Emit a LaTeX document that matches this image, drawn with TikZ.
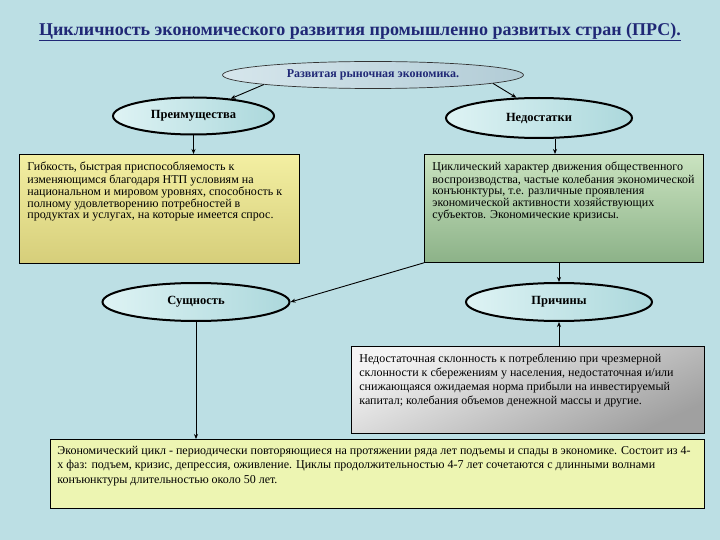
\documentclass[tikz,border=0pt]{standalone}
\usepackage{fontspec}
\setmainfont{Liberation Serif}
\usepackage{xcolor}
\usepackage{tikz}
\usetikzlibrary{arrows.meta,positioning,shapes.geometric,calc}

\definecolor{bgblue}{RGB}{188,223,228}
\definecolor{titleblue}{RGB}{32,40,118}
\definecolor{ovallight}{RGB}{222,243,244}
\definecolor{ovaldark}{RGB}{172,216,220}
\definecolor{toplight}{RGB}{214,230,236}
\definecolor{topdark}{RGB}{178,204,214}
\definecolor{yellowtop}{RGB}{243,239,162}
\definecolor{yellowbot}{RGB}{214,206,122}
\definecolor{greentop}{RGB}{202,227,192}
\definecolor{greenbot}{RGB}{140,178,136}
\definecolor{graytop}{RGB}{244,244,244}
\definecolor{graybot}{RGB}{160,160,160}
\definecolor{palefill}{RGB}{237,245,178}

\newcommand{\boxtext}[3]{\parbox[t][#2][t]{#1}{\begin{tabular}[t]{@{}l@{}}#3\end{tabular}}}

\begin{document}
\begin{tikzpicture}[x=1pt, y=-1pt,
  oval/.style={ellipse, draw=black, line width=2pt, left color=ovallight, right color=ovaldark,
    inner sep=0pt, font=\bfseries\fontsize{12.5}{14}\selectfont},
  box/.style={rectangle, draw=black, line width=0.8pt, anchor=north west,
    inner xsep=8pt, inner ysep=8pt, font=\fontsize{12}{11.7}\selectfont},
  arr/.style={line width=0.9pt, -{Stealth[length=5pt, width=4pt]}}]

  % Background
  \fill[bgblue] (0,0) rectangle (720,540);
  \useasboundingbox (0,0) rectangle (720,540);

  % Title
  \node[text=titleblue, font=\bfseries\fontsize{18}{20}\selectfont] (title) at (360,32)
    {\underline{Цикличность экономического развития промышленно развитых стран (ПРС).}};

  % Ovals
  \node[ellipse, draw=black!80, line width=0.7pt, left color=toplight, right color=topdark,
    minimum width=301pt, minimum height=27pt, inner sep=0pt, text=titleblue,
    font=\bfseries\fontsize{12}{13}\selectfont] (market) at (373,75) {Развитая рыночная экономика.};
  \node[oval, minimum width=161pt, minimum height=37pt] (adv) at (193.5,116) {Преимущества};
  \node[oval, minimum width=186pt, minimum height=40pt] (dis) at (539,118) {Недостатки};
  \node[oval, minimum width=187pt, minimum height=38pt] (ess) at (196,302) {Сущность};
  \node[oval, minimum width=186pt, minimum height=38pt] (cau) at (559,302) {Причины};

  % Text boxes
  \node[box, top color=yellowtop, bottom color=yellowbot] (advtext) at (19,154)
    {\boxtext{264pt}{93pt}{Гибкость, быстрая приспособляемость к\\
    изменяющимся благодаря НТП условиям на\\
    национальном и мировом уровнях, способность к\\
    полному удовлетворению потребностей в\\
    продуктах и услугах, на которые имеется спрос.}};
  \node[box, top color=greentop, bottom color=greenbot] (distext) at (424,154)
    {\boxtext{263pt}{92pt}{Циклический характер движения общественного\\
    воспроизводства, частые колебания экономической\\
    конъюнктуры, т.е. различные проявления\\
    экономической активности хозяйствующих\\
    субъектов. Экономические кризисы.}};
  \node[box, top color=graytop, bottom color=graybot, shading angle=25, inner ysep=6.5pt,
    font=\fontsize{12}{14}\selectfont] (cautext) at (351,346)
    {\boxtext{337pt}{74pt}{Недостаточная склонность к потреблению при чрезмерной\\
    склонности к сбережениям у населения, недостаточная и/или\\
    снижающаяся ожидаемая норма прибыли на инвестируемый\\
    капитал; колебания объемов денежной массы и другие.}};
  \node[box, fill=palefill, inner xsep=7pt, inner ysep=5pt,
    font=\fontsize{12}{14.3}\selectfont] (esstext) at (50,439)
    {\boxtext{640pt}{59pt}{Экономический цикл - периодически повторяющиеся на протяжении ряда лет подъемы и спады в экономике. Состоит из 4-\\
    х фаз: подъем, кризис, депрессия, оживление. Циклы продолжительностью 4-7 лет сочетаются с длинными волнами\\
    конъюнктуры длительностью около 50 лет.}};

  % Connectors
  \draw[arr] (market.185) -- (adv.25);
  \draw[arr] (market.-4) -- (dis.138);
  \draw[arr] (adv.south) -- (adv.south |- advtext.north);
  \draw[arr] ([xshift=16pt]dis.south) -- ([xshift=16pt]dis.south |- distext.north);
  \draw[arr] (cau.north |- distext.south) -- (cau.north);
  \draw[arr] (cau.south |- cautext.north) -- (cau.south);
  \draw[arr] (distext.south west) -- (ess.east);
  \draw[arr] (ess.south) -- (ess.south |- esstext.north);

\end{tikzpicture}
\end{document}
